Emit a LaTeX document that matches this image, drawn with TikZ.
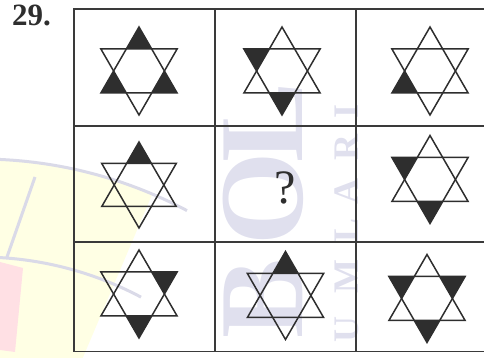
\documentclass[tikz,border=0pt]{standalone}
\usepackage{fontspec}
\setmainfont{Liberation Serif}
\definecolor{ink}{HTML}{2E2E2E}
\definecolor{gridc}{HTML}{3A3A3A}
\definecolor{wmyellow}{HTML}{FFFFE4}
\definecolor{wmpink}{HTML}{FFE0E4}
\definecolor{wmarc}{HTML}{DADAE8}
\definecolor{wmletter}{HTML}{E0E0EE}
\tikzset{
  starline/.style={draw=ink, line width=1.5pt, line join=miter},
  gridline/.style={draw=gridc, line width=1.9pt},
  wmbig/.style={text=wmletter, font=\fontsize{120}{120}\selectfont\bfseries, rotate=90, inner sep=0pt},
  wmsmall/.style={text=wmletter, font=\fontsize{36}{36}\selectfont\bfseries, rotate=90, inner sep=0pt},
}
\newcommand\hexstar[4]{%
  \begin{scope}[shift={(#1,358-#2)}]
    \foreach \a in {#4}{\fill[ink] (\a:#3) -- (\a+30:#3*0.57735) -- (\a-30:#3*0.57735) -- cycle;}
    \draw[starline] (90:#3) -- (210:#3) -- (330:#3) -- cycle;
    \draw[starline] (270:#3) -- (30:#3) -- (150:#3) -- cycle;
  \end{scope}}
\begin{document}
\begin{tikzpicture}[x=1pt,y=1pt]
\useasboundingbox (0,0) rectangle (484,358);
\begin{scope}
  \clip (0,0) rectangle (484,358);
  % watermark
  \fill[wmyellow] (-20,-242) -- ++(67:441) arc[start angle=67, end angle=120, radius=441] -- cycle;
  \fill[wmpink] (0,358-262) -- (23,358-268) -- (15,358-352) -- (0,358-350) -- cycle;
  \draw[wmarc, line width=3pt] (-20,-242) ++(62:441) arc[start angle=62, end angle=100, radius=441];
  \draw[wmarc, line width=3pt] (-20,-242) ++(62:343) arc[start angle=62, end angle=100, radius=343];
  \draw[wmarc, line width=3pt] (35,358-177) -- (7,358-257);
  \node[wmbig] (wmL) at (263,358-122) {L};
  \node[wmbig] (wmO) at (263,358-199) {O};
  \node[wmbig] (wmB) at (263,358-298) {B};
  \node[wmsmall] (wmI) at (347,358-112) {I};
  \node[wmsmall] (wmR) at (347,358-148) {R};
  \node[wmsmall] (wmA) at (347,358-192) {A};
  \node[wmsmall] (wmLL) at (347,358-230) {L};
  \node[wmsmall] (wmM) at (347,358-277) {M};
  \node[wmsmall] (wmU) at (347,358-330) {U};
  % grid
  \draw[gridline] (74,358-9.3) rectangle (498,358-351.5);
  \draw[gridline] (215,358-9.3) -- (215,358-351.5);
  \draw[gridline] (356,358-9.3) -- (356,358-351.5);
  \draw[gridline] (74,358-126) -- (498,358-126);
  \draw[gridline] (74,358-241.7) -- (498,358-241.7);
\end{scope}
% label
\node[font=\fontsize{31}{31}\selectfont\bfseries, text=ink, anchor=base west, inner sep=0pt] (num) at (12,358-26) {29.};
% stars
\hexstar{139}{71}{44}{90,210,330}
\hexstar{282}{71}{44}{150,270}
\hexstar{430}{71}{44}{210}
\hexstar{139}{185}{43}{90}
\node[font=\fontsize{48}{48}\selectfont, text=ink] (q) at (285,358-188) {?};
\hexstar{430}{179.5}{44}{150,270}
\hexstar{139}{294}{44}{30,270}
\hexstar{285.5}{295.5}{44}{90}
\hexstar{427}{298.5}{44}{150,30,270}
\end{tikzpicture}
\end{document}
